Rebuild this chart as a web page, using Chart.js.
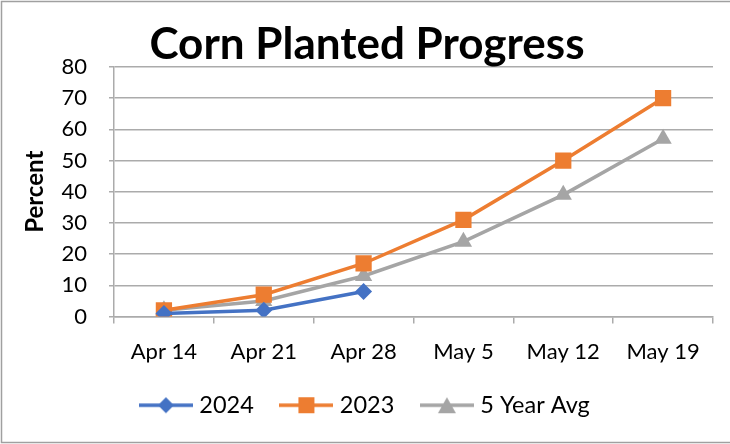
<!DOCTYPE html>
<html>
<head>
<meta charset="utf-8">
<script src="https://cdn.jsdelivr.net/npm/chart.js@4"></script>
<style>
  html, body { margin: 0; padding: 0; background: #fff; }
  #wrap { width: 730px; height: 444px; }
</style>
</head>
<body>
<div id="wrap"><canvas id="progress" width="730" height="444"></canvas></div>
<script>
const weeks = ['Apr 14', 'Apr 21', 'Apr 28', 'May 5', 'May 12', 'May 19'];
const planted2024 = [1, 2, 8, null, null, null];
const planted2023 = [2, 7, 17, 31, 50, 70];
const fiveYearAvg = [2, 5, 13, 24, 39, 57];

const FONT = 'Lato, "Open Sans", sans-serif';
const GRID = '#ababab';

// legend swatch: short line with the marker in the middle
function swatch(color, style) {
  const c = document.createElement('canvas');
  c.width = 54; c.height = 18;
  const ctx = c.getContext('2d');
  ctx.strokeStyle = color;
  ctx.lineWidth = 3.5;
  ctx.beginPath();
  ctx.moveTo(0, 9); ctx.lineTo(54, 9);
  ctx.stroke();
  ctx.fillStyle = color;
  ctx.beginPath();
  if (style === 'diamond') {
    ctx.moveTo(27, 1); ctx.lineTo(35, 9); ctx.lineTo(27, 17); ctx.lineTo(19, 9);
  } else if (style === 'square') {
    ctx.rect(19, 1, 16, 16);
  } else {
    ctx.moveTo(27, 1); ctx.lineTo(36, 17); ctx.lineTo(18, 17);
  }
  ctx.closePath();
  ctx.fill();
  return c;
}

const swatches = [
  swatch('#4472C4', 'diamond'),
  swatch('#ED7D31', 'square'),
  swatch('#A5A5A5', 'triangle'),
];

const frame = {
  id: 'frame',
  beforeDraw(chart) {
    const ctx = chart.ctx;
    ctx.save();
    ctx.fillStyle = '#fff';
    ctx.fillRect(0, 0, chart.width, chart.height);
    ctx.strokeStyle = '#a0a0a0';
    ctx.lineWidth = 1.5;
    ctx.strokeRect(1.5, 1.5, chart.width + 5, chart.height - 3);
    ctx.restore();
  }
};

new Chart(document.getElementById('progress'), {
  type: 'line',
  data: {
    labels: weeks,
    datasets: [
      {
        label: '2024',
        data: planted2024,
        borderColor: '#4472C4',
        backgroundColor: '#4472C4',
        borderWidth: 3.5,
        pointStyle: 'rectRot',
        pointRadius: 8.5,
        pointBorderWidth: 0,
      },
      {
        label: '2023',
        data: planted2023,
        borderColor: '#ED7D31',
        backgroundColor: '#ED7D31',
        borderWidth: 3.5,
        pointStyle: 'rect',
        pointRadius: 11.5,
        pointBorderWidth: 0,
      },
      {
        label: '5 Year Avg',
        data: fiveYearAvg,
        borderColor: '#A5A5A5',
        backgroundColor: '#A5A5A5',
        borderWidth: 3.5,
        pointStyle: 'triangle',
        pointRadius: 10,
        pointBorderWidth: 0,
      },
    ],
  },
  options: {
    responsive: false,
    animation: false,
    layout: { padding: { left: 21, right: 17, top: 0, bottom: 17 } },
    plugins: {
      title: {
        display: true,
        text: 'Corn Planted Progress',
        color: '#000',
        font: { family: FONT, size: 44, weight: 'bold', lineHeight: 1 },
        padding: { top: 23, bottom: 0 },
      },
      legend: {
        position: 'bottom',
        labels: {
          usePointStyle: true,
          pointStyleWidth: 43.25,
          padding: 31,
          color: '#000',
          font: { family: FONT, size: 23.5 },
          generateLabels(chart) {
            return chart.data.datasets.map((ds, i) => ({
              text: ds.label,
              pointStyle: swatches[i],
              fillStyle: ds.borderColor,
              strokeStyle: ds.borderColor,
              lineWidth: 0,
              datasetIndex: i,
              fontColor: '#000',
            }));
          },
        },
      },
      tooltip: { enabled: false },
    },
    scales: {
      x: {
        offset: true,
        grid: {
          offset: true,
          drawOnChartArea: false,
          drawTicks: true,
          tickLength: 7,
          color: GRID,
          lineWidth: 1.5,
        },
        border: { color: GRID, width: 1.5 },
        ticks: {
          color: '#000',
          padding: 15,
          font: { family: FONT, size: 22 },
          maxRotation: 0,
        },
        afterFit(scale) { scale.height = 46; },
      },
      y: {
        min: 0,
        max: 80,
        ticks: {
          stepSize: 10,
          color: '#000',
          padding: 22,
          font: { family: FONT, size: 22 },
        },
        grid: { color: GRID, lineWidth: 1.5, tickLength: 5 },
        border: { color: GRID, width: 1.5 },
        title: {
          display: true,
          text: 'Percent',
          color: '#000',
          font: { family: FONT, size: 24, weight: 'bold' },
          padding: { top: 0, bottom: 4 },
        },
        afterFit(scale) { scale.width = 93; },
      },
    },
  },
  plugins: [frame],
});
</script>
</body>
</html>
